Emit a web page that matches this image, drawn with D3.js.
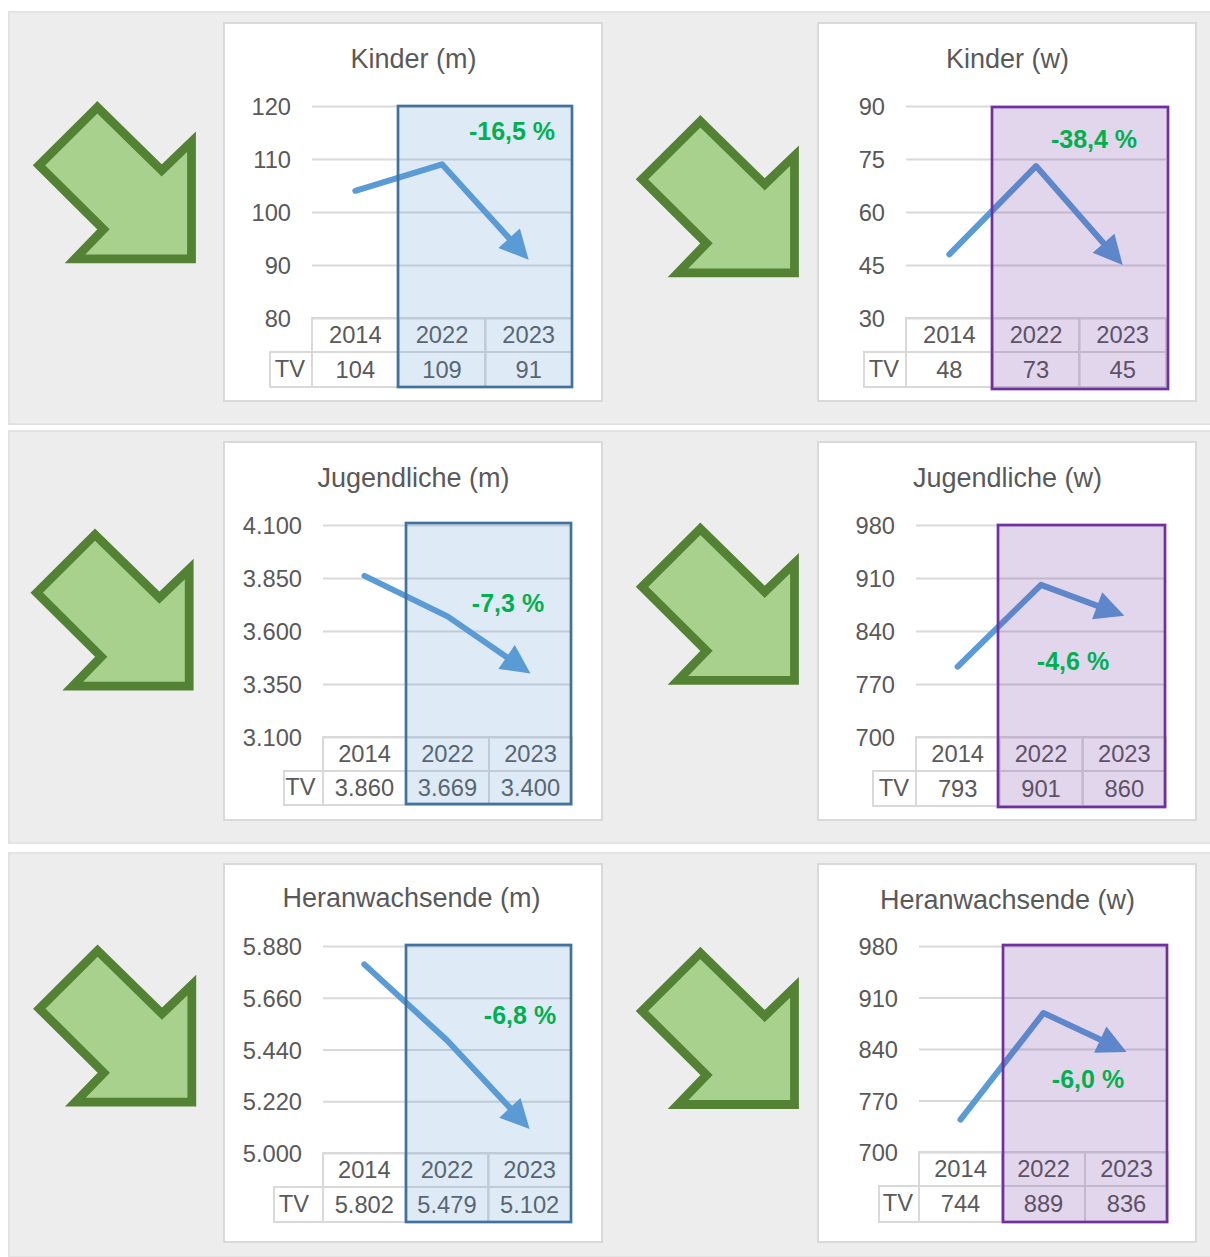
<!DOCTYPE html>
<html>
<head>
<meta charset="utf-8">
<script src="https://cdn.jsdelivr.net/npm/d3@7"></script>
<style>
    body { margin: 0; background: #fff; }
    svg { display: block; }
    text { font-family: "Liberation Sans", Arial, sans-serif; fill: #595959; }
</style>
</head>
<body>
<figure id="chart" style="margin:0"></figure>
<script>
const years = ["2014", "2022", "2023"];

const kinderM = [104, 109, 91];
const kinderW = [48, 73, 45];
const jugendM = [3860, 3669, 3400];
const jugendW = [793, 901, 860];
const heranM = [5802, 5479, 5102];
const heranW = [744, 889, 836];

const kinderMTicks = [80, 90, 100, 110, 120];
const kinderWTicks = [30, 45, 60, 75, 90];
const jugendMTicks = [3100, 3350, 3600, 3850, 4100];
const jugendWTicks = [700, 770, 840, 910, 980];
const heranMTicks = [5000, 5220, 5440, 5660, 5880];
const heranWTicks = [700, 770, 840, 910, 980];

const titles = ["Kinder (m)", "Kinder (w)", "Jugendliche (m)", "Jugendliche (w)", "Heranwachsende (m)", "Heranwachsende (w)"];
const changes = ["-16,5 %", "-38,4 %", "-7,3 %", "-4,6 %", "-6,8 %", "-6,0 %"];

const blue = "#5b9bd5", purple = "#7030a0";

// layout of each card, in page pixels
const layout = [
    { values: kinderM, ticks: kinderMTicks, card: [224, 23], top: 106, bottom: 318, left: 312, right: 572, tv: 270, tvText: 290, row: 352, foot: 387,
      box: [398, 106, 572, 387], accent: blue, edge: "#41719c", label: [512, 131], arrow: [0, 0], title: [413.5, 59] },
    { values: kinderW, ticks: kinderWTicks, card: [818, 23], top: 106, bottom: 318, left: 906, right: 1166, tv: 864, tvText: 884, row: 352, foot: 387,
      box: [992, 107, 1168, 389], accent: purple, edge: purple, label: [1094, 139], arrow: [603, 14], title: [1007.5, 59] },
    { values: jugendM, ticks: jugendMTicks, card: [224, 442], top: 525, bottom: 737, left: 323, right: 572, tv: 284, tvText: 300.5, row: 771, foot: 805,
      box: [406, 523, 571, 804], accent: blue, edge: "#41719c", label: [508, 603], arrow: [-2.3, 427.4], title: [413.5, 478] },
    { values: jugendW, ticks: jugendWTicks, card: [818, 442], top: 525, bottom: 737, left: 916, right: 1166, tv: 873, tvText: 894, row: 771, foot: 806,
      box: [998, 525, 1165, 807], accent: purple, edge: purple, label: [1073, 661], arrow: [603, 421.5], title: [1007.5, 478] },
    { values: heranM, ticks: heranMTicks, card: [224, 864], top: 946, bottom: 1153, left: 323, right: 571, tv: 274, tvText: 294, row: 1187, foot: 1222,
      box: [406, 945, 571, 1222], accent: blue, edge: "#41719c", label: [520, 1015], arrow: [0.3, 843.4], title: [411.5, 898] },
    { values: heranW, ticks: heranWTicks, card: [818, 864], top: 946, bottom: 1152, left: 919, right: 1168, tv: 879, tvText: 898, row: 1186, foot: 1222,
      box: [1003, 945, 1167, 1222], accent: purple, edge: purple, label: [1088, 1079], arrow: [603, 845.7], title: [1007.5, 900] }
];

const bands = [[12, 424], [431, 843], [853, 1257]];

// outline of the big trend arrow
const trendShape = [[97.3, 107.3], [39, 165.3], [103.5, 229.3], [75, 258.8], [191.5, 258.8], [191.5, 141.7], [161.7, 170.3]];

const de = d3.formatLocale({ decimal: ",", thousands: ".", grouping: [3], currency: ["", " €"] });
const fmt = de.format(",d");

const svg = d3.select("figure#chart")
    .append("svg")
    .attr("width", 1210)
    .attr("height", 1257)
    .attr("viewBox", "0 0 1210 1257");

svg.selectAll("rect.band")
    .data(bands)
    .enter()
    .append("rect")
    .attr("class", "band")
    .attr("x", 9)
    .attr("y", d => d[0])
    .attr("width", 1210)
    .attr("height", d => d[1] - d[0])
    .attr("fill", "#ededed")
    .attr("stroke", "#e3e3e3")
    .attr("stroke-width", 2);

layout.forEach((c, i) => {
    const g = svg.append("g");

    // big arrow on the left of the card
    g.append("path")
        .attr("d", d3.line()(trendShape) + "Z")
        .attr("transform", `translate(${c.arrow[0]},${c.arrow[1]})`)
        .attr("fill", "#a9d18e")
        .attr("stroke", "#548235")
        .attr("stroke-width", 8.8)
        .attr("stroke-miterlimit", 10);

    g.append("rect")
        .attr("x", c.card[0])
        .attr("y", c.card[1])
        .attr("width", 378)
        .attr("height", 378)
        .attr("fill", "#fff")
        .attr("stroke", "#d9d9d9")
        .attr("stroke-width", 2);

    g.append("text")
        .attr("x", c.title[0])
        .attr("y", c.title[1])
        .attr("dominant-baseline", "central")
        .attr("text-anchor", "middle")
        .attr("font-size", 27)
        .text(titles[i]);

    const xScale = d3.scaleBand().domain(years).range([c.left, c.right]);
    const yScale = d3.scaleLinear()
        .domain(d3.extent(c.ticks))
        .range([c.bottom, c.top]);

    // value axis, ticks run across as gridlines
    const axis = g.append("g")
        .attr("transform", `translate(${c.left},0)`)
        .call(d3.axisLeft(yScale)
            .tickValues(c.ticks)
            .tickFormat(fmt)
            .tickSize(-(c.right - c.left))
            .tickPadding(21));
    axis.select(".domain").remove();
    axis.selectAll("line").attr("stroke", "#d9d9d9").attr("stroke-width", 2);
    axis.selectAll("text").attr("font-size", 23.7).attr("dy", "0.36em").attr("font-family", null).attr("fill", "#595959");

    // data table under the plot
    const table = g.append("g").attr("stroke", "#d9d9d9").attr("stroke-width", 2).attr("fill", "none");
    years.forEach(y => {
        table.append("rect").attr("x", xScale(y)).attr("y", c.bottom)
            .attr("width", xScale.bandwidth()).attr("height", c.row - c.bottom);
        table.append("rect").attr("x", xScale(y)).attr("y", c.row)
            .attr("width", xScale.bandwidth()).attr("height", c.foot - c.row);
    });
    table.append("rect").attr("x", c.tv).attr("y", c.row)
        .attr("width", c.left - c.tv).attr("height", c.foot - c.row);

    const cells = g.append("g")
        .attr("font-size", 23.7)
        .attr("text-anchor", "middle");
    cells.selectAll("text.year")
        .data(years)
        .enter()
        .append("text")
        .attr("class", "year")
        .attr("x", d => xScale(d) + xScale.bandwidth() / 2)
        .attr("y", (c.bottom + c.row) / 2)
        .attr("dominant-baseline", "central")
        .text(d => d);
    cells.selectAll("text.val")
        .data(c.values)
        .enter()
        .append("text")
        .attr("class", "val")
        .attr("x", (d, j) => xScale(years[j]) + xScale.bandwidth() / 2)
        .attr("y", (c.row + c.foot) / 2)
        .attr("dominant-baseline", "central")
        .text(d => fmt(d));
    cells.append("text")
        .attr("x", c.tvText)
        .attr("y", (c.row + c.foot) / 2 - 1)
        .attr("dominant-baseline", "central")
        .text("TV");

    // line with an arrowhead on the last point
    const pts = c.values.map((v, j) => [xScale(years[j]) + xScale.bandwidth() / 2, yScale(v)]);
    const tip = pts[2], prev = pts[1];
    const angle = Math.atan2(tip[1] - prev[1], tip[0] - prev[0]);
    const headLen = 29, headWide = 29;
    const neck = [tip[0] - Math.cos(angle) * (headLen - 4), tip[1] - Math.sin(angle) * (headLen - 4)];

    g.append("path")
        .attr("d", d3.line()([pts[0], pts[1], neck]))
        .attr("fill", "none")
        .attr("stroke", blue)
        .attr("stroke-width", 6)
        .attr("stroke-linecap", "round")
        .attr("stroke-linejoin", "round");
    g.append("path")
        .attr("d", `M0,0L${-headLen},${-headWide / 2}L${-headLen},${headWide / 2}Z`)
        .attr("transform", `translate(${tip[0]},${tip[1]}) rotate(${angle * 180 / Math.PI})`)
        .attr("fill", blue);

    // tinted 2022-2023 box lies over everything drawn so far
    g.append("rect")
        .attr("x", c.box[0])
        .attr("y", c.box[1])
        .attr("width", c.box[2] - c.box[0])
        .attr("height", c.box[3] - c.box[1])
        .attr("fill", c.accent)
        .attr("fill-opacity", 0.2)
        .attr("stroke", c.edge)
        .attr("stroke-width", 2.7);

    g.append("text")
        .attr("x", c.label[0])
        .attr("y", c.label[1])
        .attr("text-anchor", "middle")
        .attr("dominant-baseline", "central")
        .attr("font-size", 25)
        .attr("font-weight", "bold")
        .style("fill", "#00b050")
        .text(changes[i]);
});
</script>
</body>
</html>
